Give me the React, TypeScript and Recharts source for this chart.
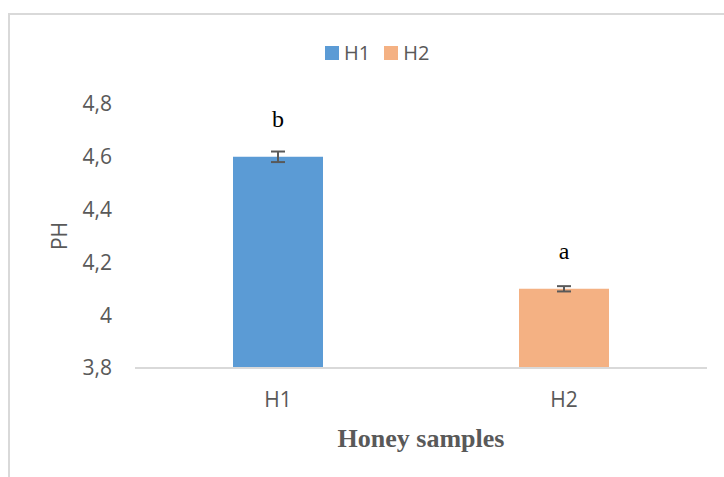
import React from 'react'
import { BarChart, Bar, XAxis, YAxis, Cell, ErrorBar, LabelList, Legend } from 'recharts'

const samples = ['H1', 'H2']
const phValues = [4.6, 4.1]
const phErrors = [0.02, 0.01]
const groupLetters = ['b', 'a']
const barColors = ['#5B9BD5', '#F4B183']
const yTicks = [3.8, 4, 4.2, 4.4, 4.6, 4.8]

const data = samples.map((name, i) => ({
  name,
  ph: phValues[i],
  err: phErrors[i],
  letter: groupLetters[i],
}))

const sans = '"Open Sans", sans-serif'
const serif = '"Liberation Serif", "Times New Roman", serif'
const grey = '#595959'

// legend mirrors the single series with varied colours
function SampleLegend() {
  return (
    <div style={{ display: 'flex', alignItems: 'center', fontFamily: sans, fontSize: 20, color: grey }}>
      {samples.map((s, i) => (
        <div key={s} style={{ display: 'flex', alignItems: 'center', marginRight: 14 }}>
          <span style={{ width: 14, height: 14, background: barColors[i], display: 'inline-block', marginRight: 5 }} />
          <span>{s}</span>
        </div>
      ))}
    </div>
  )
}

function PhLabel(props: any) {
  const vb = props.viewBox || {}
  const cy = vb.y + vb.height / 2
  return (
    <text
      x={59}
      y={cy}
      transform={`rotate(-90, 59, ${cy})`}
      textAnchor="middle"
      dominantBaseline="central"
      fontFamily={sans}
      fontSize={21}
      fill={grey}
    >
      PH
    </text>
  )
}

export default function App() {
  return (
    <div style={{ position: 'fixed', left: 0, top: 0, width: 724, height: 477, background: '#fff' }}>
      <div
        style={{
          position: 'absolute',
          left: 8,
          top: 13,
          width: 730,
          height: 480,
          borderTop: '2px solid #d9d9d9',
          borderLeft: '2px solid #d9d9d9',
        }}
      />
      <div style={{ position: 'absolute', left: 0, top: 0 }}>
        <BarChart width={724} height={477} data={data} margin={{ top: 104, right: 17, left: 0, bottom: 24 }}>
          <Legend
            verticalAlign="middle"
            layout="horizontal"
            wrapperStyle={{ top: 39, left: 325, width: 140 }}
            content={<SampleLegend />}
          />
          <XAxis
            dataKey="name"
            height={85}
            tickLine={false}
            axisLine={{ stroke: '#d9d9d9', strokeWidth: 2 }}
            tick={{ fontFamily: sans, fontSize: 21, fill: grey }}
            tickMargin={18}
            label={{
              value: 'Honey samples',
              position: 'insideBottom',
              offset: 6,
              fontFamily: serif,
              fontSize: 26,
              fontWeight: 'bold',
              fill: grey,
            }}
          />
          <YAxis
            width={135}
            domain={[3.8, 4.8]}
            ticks={yTicks}
            axisLine={false}
            tickLine={false}
            tickMargin={17}
            tick={{ fontFamily: sans, fontSize: 21, fill: grey }}
            tickFormatter={(v: number) => String(v).replace('.', ',')}
            label={<PhLabel />}
          />
          <Bar dataKey="ph" barSize={90} isAnimationActive={false}>
            {data.map((d, i) => (
              <Cell key={d.name} fill={barColors[i]} />
            ))}
            <ErrorBar dataKey="err" width={7} stroke={grey} strokeWidth={2} direction="y" />
            <LabelList
              dataKey="letter"
              position="top"
              offset={30}
              style={{ fontFamily: serif, fontSize: 24, fill: '#000' }}
            />
          </Bar>
        </BarChart>
      </div>
    </div>
  )
}
